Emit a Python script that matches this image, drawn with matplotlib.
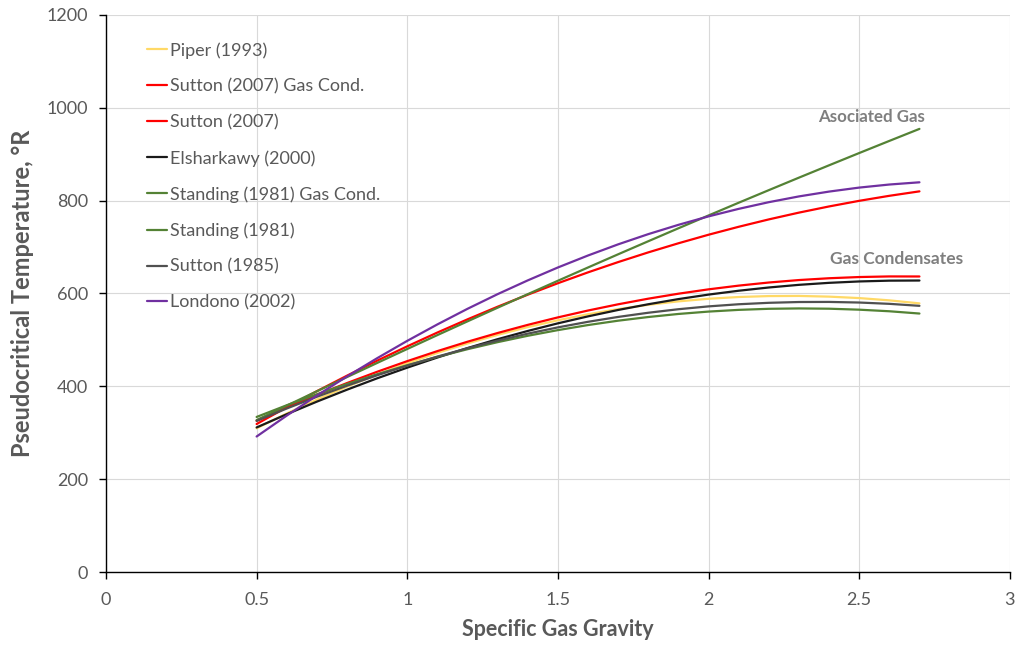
import matplotlib
matplotlib.use("Agg")
import matplotlib.pyplot as plt

plt.rcParams["font.family"] = ["Lato", "DejaVu Sans"]

# Specific gas gravity sample points
gravity = [0.5, 0.6, 0.7, 0.8, 0.9, 1.0, 1.1, 1.2, 1.3, 1.4, 1.5, 1.6,
           1.7, 1.8, 1.9, 2.0, 2.1, 2.2, 2.3, 2.4, 2.5, 2.6, 2.7]

# Pseudocritical temperature, °R, for each correlation
piper_1993 = [309.8, 341.5, 371.4, 399.4, 425.5, 449.7, 472.0, 492.4, 510.9, 527.6,
              542.3, 555.3, 566.3, 575.6, 583.0, 588.6, 592.4, 594.4, 594.7, 593.2,
              590.1, 585.2, 578.7]
sutton_2007_gc = [326.2, 354.5, 381.5, 407.1, 431.4, 454.3, 475.9, 496.1, 514.9, 532.4,
                  548.5, 563.3, 576.7, 588.8, 599.5, 608.9, 616.9, 623.6, 628.9, 632.8,
                  635.4, 636.7, 636.6]
sutton_2007 = [318.9, 354.9, 389.6, 423.0, 455.3, 486.2, 515.9, 544.3, 571.5, 597.4,
               622.1, 645.5, 667.6, 688.5, 708.1, 726.5, 743.6, 759.5, 774.1, 787.4,
               799.5, 810.3, 819.9]
elsharkawy_2000 = [311.5, 340.0, 367.1, 392.8, 417.3, 440.3, 462.1, 482.5, 501.6, 519.3,
                   535.7, 550.7, 564.5, 576.8, 587.9, 597.6, 605.9, 612.9, 618.6, 622.9,
                   625.9, 627.6, 627.9]
standing_1981_gc = [334.1, 359.3, 383.0, 405.2, 426.1, 445.5, 463.5, 480.0, 495.2, 508.9,
                    521.1, 532.0, 541.4, 549.3, 555.9, 561.0, 564.7, 567.0, 567.8, 567.2,
                    565.1, 561.7, 556.8]
standing_1981 = [327.4, 358.5, 389.4, 420.0, 450.4, 480.5, 510.4, 540.0, 569.4, 598.5,
                 627.4, 656.0, 684.4, 712.5, 740.4, 768.0, 795.4, 822.5, 849.4, 876.0,
                 902.4, 928.5, 954.4]
sutton_1985 = [325.5, 352.3, 377.6, 401.4, 423.8, 444.7, 464.1, 482.0, 498.5, 513.5,
               527.0, 539.0, 549.5, 558.5, 566.1, 572.2, 576.8, 579.9, 581.6, 581.8,
               580.5, 577.7, 573.4]
londono_2002 = [292.0, 337.0, 380.2, 421.4, 460.6, 498.0, 533.4, 567.0, 598.6, 628.2,
                656.0, 681.8, 705.8, 727.8, 747.8, 766.0, 782.2, 796.6, 809.0, 819.4,
                828.0, 834.6, 839.4]

series = [
    ("Piper (1993)", piper_1993, "#FFD966"),
    ("Sutton (2007) Gas Cond.", sutton_2007_gc, "#FF0000"),
    ("Sutton (2007)", sutton_2007, "#FF0000"),
    ("Elsharkawy (2000)", elsharkawy_2000, "#1A1A1A"),
    ("Standing (1981) Gas Cond.", standing_1981_gc, "#548235"),
    ("Standing (1981)", standing_1981, "#548235"),
    ("Sutton (1985)", sutton_1985, "#505050"),
    ("Londono (2002)", londono_2002, "#7030A0"),
]

x_ticks = [0, 0.5, 1, 1.5, 2, 2.5, 3]
x_tick_labels = ["0", "0.5", "1", "1.5", "2", "2.5", "3"]
y_ticks = [0, 200, 400, 600, 800, 1000, 1200]

text_gray = "#595959"

fig = plt.figure(figsize=(10.19, 6.45), dpi=100)
ax = fig.add_axes([0.104, 0.113, 0.887, 0.864])

for name, values, color in series:
    ax.plot(gravity, values, color=color, lw=1.6, label=name, solid_capstyle="round")

ax.set_xlim(0, 3)
ax.set_ylim(0, 1200)
ax.set_xticks(x_ticks)
ax.set_xticklabels(x_tick_labels)
ax.set_yticks(y_ticks)

ax.grid(True, color="#D9D9D9", lw=0.8)
ax.set_axisbelow(True)
for side in ("top", "right"):
    ax.spines[side].set_visible(False)
for side in ("left", "bottom"):
    ax.spines[side].set_color("#000000")
    ax.spines[side].set_linewidth(1.0)

ax.tick_params(axis="both", direction="out", length=5, width=1, colors="#000000",
               labelcolor=text_gray, labelsize=13)
ax.tick_params(axis="x", pad=9)
ax.tick_params(axis="y", pad=8)

ax.set_xlabel("Specific Gas Gravity", fontsize=15.5, fontweight="bold", color=text_gray,
              labelpad=8)
ax.set_ylabel("Pseudocritical Temperature, °R", fontsize=17, fontweight="bold",
              color=text_gray, labelpad=9)

leg = ax.legend(loc="upper left", bbox_to_anchor=(0.045, 0.951), frameon=False,
                fontsize=13, handlelength=1.1, handletextpad=0.17, labelspacing=1.09,
                borderaxespad=0, borderpad=0)
for txt in leg.get_texts():
    txt.set_color(text_gray)

ax.text(2.542, 980, "Asociated Gas", fontsize=12.2, fontweight="bold", color="#7F7F7F",
        ha="center", va="center")
ax.text(2.624, 674, "Gas Condensates", fontsize=12.5, fontweight="bold", color="#7F7F7F",
        ha="center", va="center")

fig.savefig("out.png", dpi=100)
